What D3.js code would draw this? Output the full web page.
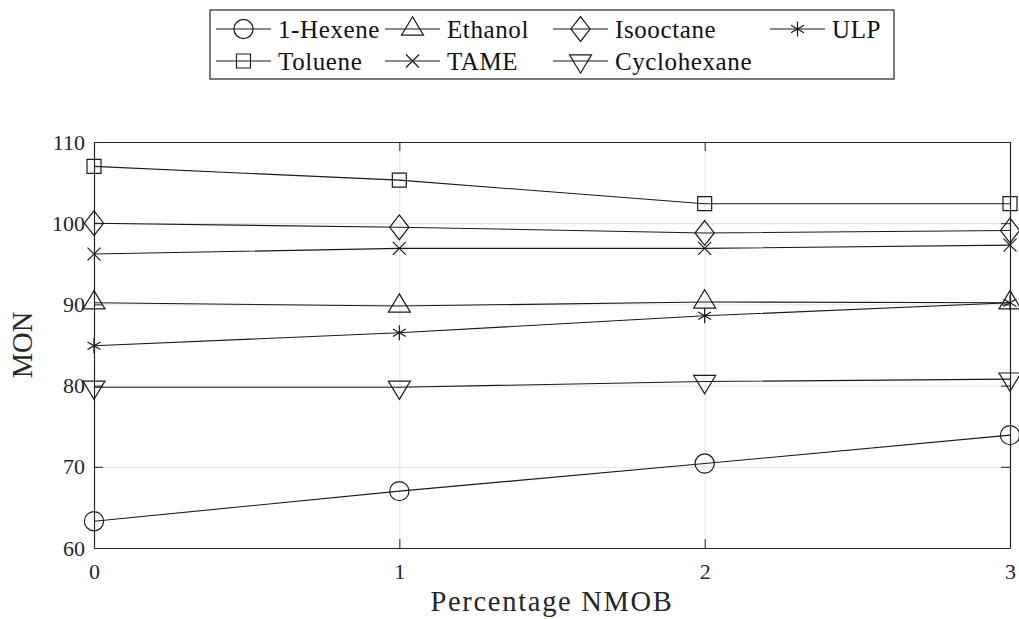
<!DOCTYPE html>
<html>
<head>
<meta charset="utf-8">
<script src="https://cdn.jsdelivr.net/npm/d3@7"></script>
<style>
  html, body { margin: 0; padding: 0; background: #ffffff; }
  svg { display: block; }
  svg text { font-family: "Liberation Serif", "Times New Roman", serif; }
</style>
</head>
<body>
<svg id="chart" width="1019" height="619"></svg>
<script>
// NMOB blending percentage on the x axis
const nmobPercent = [0, 1, 2, 3];

// Motor octane number of each fuel
const hexene      = [63.3, 67.0, 70.4, 73.9];
const toluene     = [107.0, 105.3, 102.4, 102.4];
const ethanol     = [90.2, 89.8, 90.3, 90.2];
const tame        = [96.2, 96.9, 96.9, 97.3];
const isooctane   = [100.0, 99.5, 98.8, 99.1];
const cyclohexane = [79.8, 79.8, 80.5, 80.8];
const ulp         = [84.9, 86.5, 88.6, 90.2];

const xTicks = [0, 1, 2, 3];
const yTicks = [60, 70, 80, 90, 100, 110];

// Legend order (filled row by row, four columns)
const seriesNames = ["1-Hexene", "Ethanol", "Isooctane", "ULP", "Toluene", "TAME", "Cyclohexane"];
const seriesValues = [hexene, ethanol, isooctane, ulp, toluene, tame, cyclohexane];
const seriesMarkers = ["circle", "triangleUp", "diamond", "asterisk", "square", "cross", "triangleDown"];

const serif = '"Liberation Serif", "Times New Roman", serif';
const ink = "#1a1a1a";
const axisInk = "#262626";
const gridInk = "#e3e3e3";

const svg = d3.select("#chart");
const plot = { left: 94, top: 142, right: 1010, bottom: 548 };
const width = plot.right - plot.left;
const height = plot.bottom - plot.top;

const x = d3.scaleLinear().domain([0, 3]).range([plot.left, plot.right]);
const y = d3.scaleLinear().domain([60, 110]).range([plot.bottom, plot.top]);

// Marker path builders, centred on (0,0)
function markerPath(type) {
  const p = d3.path();
  switch (type) {
    case "circle": {
      const r = 9.6;
      p.moveTo(r, 0); p.arc(0, 0, r, 0, 2 * Math.PI); p.closePath();
      break;
    }
    case "square": {
      const s = 7;
      p.rect(-s, -s, 2 * s, 2 * s);
      break;
    }
    case "diamond": {
      const w = 9.6, h = 12.4;
      p.moveTo(0, -h); p.lineTo(w, 0); p.lineTo(0, h); p.lineTo(-w, 0); p.closePath();
      break;
    }
    case "triangleUp": {
      const w = 11, h = 18.3;
      p.moveTo(0, -h * 2 / 3); p.lineTo(w, h / 3); p.lineTo(-w, h / 3); p.closePath();
      break;
    }
    case "triangleDown": {
      const w = 11, h = 18.3;
      p.moveTo(0, h * 2 / 3); p.lineTo(w, -h / 3); p.lineTo(-w, -h / 3); p.closePath();
      break;
    }
    case "cross": {
      const s = 6.5;
      p.moveTo(-s, -s); p.lineTo(s, s); p.moveTo(-s, s); p.lineTo(s, -s);
      break;
    }
    case "asterisk": {
      const r = 7.5;
      const a = Math.PI / 6;
      p.moveTo(0, -r); p.lineTo(0, r);
      p.moveTo(-r * Math.cos(a), -r * Math.sin(a)); p.lineTo(r * Math.cos(a), r * Math.sin(a));
      p.moveTo(-r * Math.cos(a), r * Math.sin(a)); p.lineTo(r * Math.cos(a), -r * Math.sin(a));
      break;
    }
  }
  return p.toString();
}

// Grid lines
svg.append("g")
  .attr("transform", `translate(0,${plot.bottom})`)
  .call(d3.axisBottom(x).tickValues(xTicks).tickSize(-height).tickFormat(""))
  .call(g => g.select(".domain").remove())
  .call(g => g.selectAll("line").attr("stroke", gridInk).attr("stroke-width", 1));
svg.append("g")
  .attr("transform", `translate(${plot.left},0)`)
  .call(d3.axisLeft(y).tickValues(yTicks).tickSize(-width).tickFormat(""))
  .call(g => g.select(".domain").remove())
  .call(g => g.selectAll("line").attr("stroke", gridInk).attr("stroke-width", 1));

// Axes with inward ticks on all four sides
const tickLen = 9;
const xAxisB = svg.append("g")
  .attr("transform", `translate(0,${plot.bottom})`)
  .call(d3.axisBottom(x).tickValues(xTicks).tickSizeInner(-tickLen).tickSizeOuter(0).tickPadding(15).tickFormat(d3.format("d")));
const xAxisT = svg.append("g")
  .attr("transform", `translate(0,${plot.top})`)
  .call(d3.axisTop(x).tickValues(xTicks).tickSizeInner(-tickLen).tickSizeOuter(0).tickFormat(""));
const yAxisL = svg.append("g")
  .attr("transform", `translate(${plot.left},0)`)
  .call(d3.axisLeft(y).tickValues(yTicks).tickSizeInner(-tickLen).tickSizeOuter(0).tickPadding(9).tickFormat(d3.format("d")));
const yAxisR = svg.append("g")
  .attr("transform", `translate(${plot.right},0)`)
  .call(d3.axisRight(y).tickValues(yTicks).tickSizeInner(-tickLen).tickSizeOuter(0).tickFormat(""));

[xAxisB, xAxisT, yAxisL, yAxisR].forEach(g => {
  g.attr("font-family", serif).attr("font-size", 22);
  g.select(".domain").attr("stroke", axisInk).attr("stroke-width", 1.2);
  g.selectAll(".tick line").attr("stroke", axisInk).attr("stroke-width", 1);
  g.selectAll("text").attr("fill", "#262626").attr("font-size", 22).attr("font-family", serif);
});

// Series lines and markers
const line = d3.line().x((d, i) => x(nmobPercent[i])).y(d => y(d));
seriesValues.forEach((vals, k) => {
  const g = svg.append("g");
  g.append("path")
    .attr("d", line(vals))
    .attr("fill", "none")
    .attr("stroke", ink)
    .attr("stroke-width", 1.1);
  g.selectAll("path.marker")
    .data(vals)
    .join("path")
    .attr("class", "marker")
    .attr("transform", (d, i) => `translate(${x(nmobPercent[i])},${y(d)})`)
    .attr("d", markerPath(seriesMarkers[k]))
    .attr("fill", "none")
    .attr("stroke", ink)
    .attr("stroke-width", 1.2);
});

// Axis titles
svg.append("text")
  .attr("x", (plot.left + plot.right) / 2)
  .attr("y", 611)
  .attr("text-anchor", "middle")
  .attr("font-family", serif)
  .attr("font-size", 28.5)
  .attr("letter-spacing", 1.7)
  .attr("fill", "#262626")
  .text("Percentage NMOB");

svg.append("text")
  .attr("transform", `translate(32,${(plot.top + plot.bottom) / 2}) rotate(-90)`)
  .attr("text-anchor", "middle")
  .attr("font-family", serif)
  .attr("font-size", 28.5)
  .attr("fill", "#262626")
  .text("MON");

// Legend: four columns, filled row by row, centred above the axes
const legend = svg.append("g");
const legendFont = 25;
const lineLen = 55;
const textGap = 7;
const cols = 4;
const colX = [216, 385, 553, 770];
const rowY = [29, 61];
const boxLeft = 210, boxTop = 10, boxBottom = 79;
const boxRight = (plot.left + plot.right) - boxLeft;

legend.append("rect")
  .attr("x", boxLeft).attr("y", boxTop)
  .attr("width", boxRight - boxLeft).attr("height", boxBottom - boxTop)
  .attr("fill", "#ffffff").attr("stroke", "#262626").attr("stroke-width", 1.2);

seriesNames.forEach((name, i) => {
  const c = i % cols, r = Math.floor(i / cols);
  const gx = colX[c], gy = rowY[r];
  const item = legend.append("g");
  item.append("line")
    .attr("x1", gx).attr("x2", gx + lineLen)
    .attr("y1", gy).attr("y2", gy)
    .attr("stroke", ink).attr("stroke-width", 1.1);
  item.append("path")
    .attr("transform", `translate(${gx + lineLen / 2},${gy})`)
    .attr("d", markerPath(seriesMarkers[i]))
    .attr("fill", "none").attr("stroke", ink).attr("stroke-width", 1.2);
  item.append("text")
    .attr("x", gx + lineLen + textGap)
    .attr("y", gy)
    .attr("dy", "0.34em")
    .attr("font-family", serif)
    .attr("font-size", legendFont)
    .attr("letter-spacing", 0.6)
    .attr("fill", "#111")
    .text(name);
});
</script>
</body>
</html>
